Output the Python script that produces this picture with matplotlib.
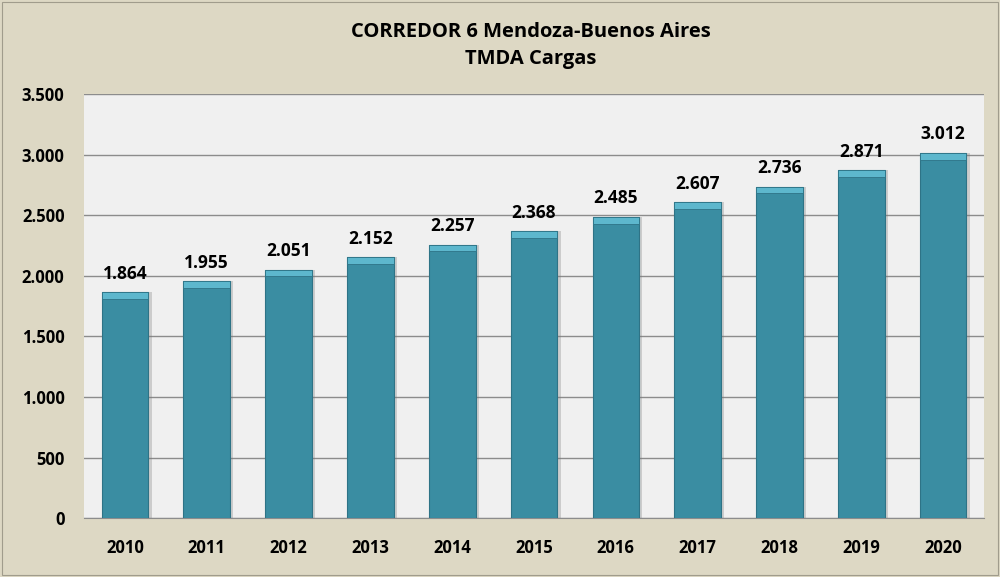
import matplotlib
matplotlib.use("Agg")
import matplotlib.pyplot as plt
from matplotlib.ticker import FuncFormatter
import numpy as np

years = ["2010", "2011", "2012", "2013", "2014", "2015", "2016", "2017", "2018", "2019", "2020"]
tmda = [1864, 1955, 2051, 2152, 2257, 2368, 2485, 2607, 2736, 2871, 3012]
yticks = [0, 500, 1000, 1500, 2000, 2500, 3000, 3500]

plt.rcParams["font.family"] = ["Open Sans", "DejaVu Sans"]

fig = plt.figure(figsize=(10, 5.77), dpi=100, facecolor="#DDD8C4")
ax = fig.add_axes([0.084, 0.102, 0.9, 0.735])
ax.set_facecolor("#F0F0F0")

x = np.arange(len(years))
w = 0.57

# sombra
ax.bar(x + 0.04, tmda, width=w, color="#7A7A7A", alpha=0.3, zorder=2)
# barra principal
ax.bar(x, tmda, width=w, color="#3A8DA2", edgecolor="#2E7386", linewidth=0.8, zorder=3)
# bisel superior
cap = [v - 55 for v in tmda]
ax.bar(x, [55] * len(tmda), bottom=cap, width=w, color="#5DB7CD", edgecolor="#2E7386",
       linewidth=0.6, zorder=4)

for xi, v in zip(x, tmda):
    ax.text(xi, v + 80, f"{v:,}".replace(",", "."), ha="center", va="bottom",
            fontsize=12.5, fontweight="bold", color="black", zorder=5)

ax.set_xlim(-0.5, len(years) - 0.5)
ax.set_ylim(0, 3500)
ax.set_yticks(yticks)
ax.yaxis.set_major_formatter(FuncFormatter(lambda v, p: f"{int(v):,}".replace(",", ".")))
ax.set_xticks(x)
ax.set_xticklabels(years)
ax.yaxis.grid(True, color="#8C8C8C", linewidth=1.0, zorder=1)
ax.set_axisbelow(True)
for s in ["top", "right", "left"]:
    ax.spines[s].set_visible(False)
ax.spines["bottom"].set_color("#8C8C8C")
ax.tick_params(axis="both", length=0, labelsize=12)
ax.tick_params(axis="y", pad=14)
ax.tick_params(axis="x", pad=15)
for lbl in ax.get_xticklabels() + ax.get_yticklabels():
    lbl.set_fontweight("bold")

fig.text(0.531, 0.945, "CORREDOR 6 Mendoza-Buenos Aires", ha="center", va="center",
         fontsize=14.5, fontweight="bold")
fig.text(0.531, 0.897, "TMDA Cargas", ha="center", va="center",
         fontsize=14.5, fontweight="bold")

fig.patches.append(plt.Rectangle((0.002, 0.003), 0.996, 0.994, transform=fig.transFigure,
                                 fill=False, edgecolor="#A09C8C", linewidth=0.8))

fig.savefig("out.png", dpi=100, facecolor=fig.get_facecolor())
